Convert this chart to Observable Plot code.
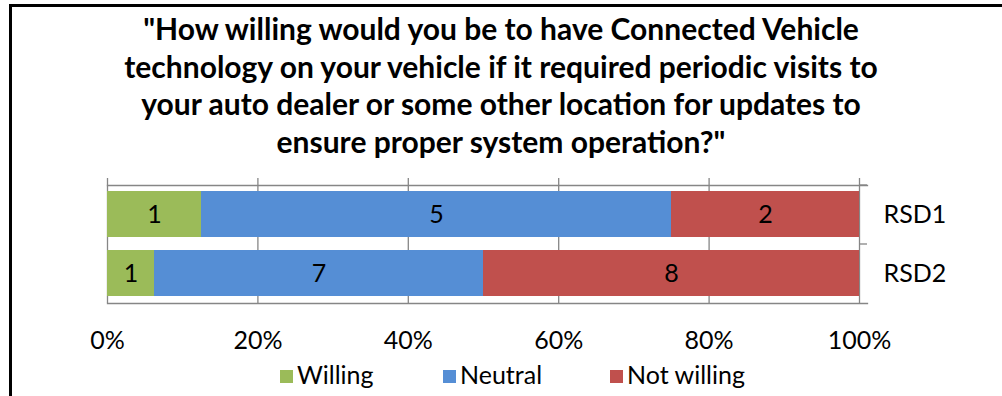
<!DOCTYPE html>
<html>
<head>
<meta charset="utf-8">
<script src="https://cdn.jsdelivr.net/npm/d3@7"></script>
<script src="https://cdn.jsdelivr.net/npm/@observablehq/plot@0.6"></script>
<style>
  html, body { margin: 0; padding: 0; background: #fff; }
  #root { position: relative; width: 1002px; height: 396px; overflow: hidden; font-family: Lato, "Open Sans", sans-serif; color: #000; }
  #frame { position: absolute; left: 9px; top: 4px; width: 1100px; height: 500px; border-left: 3px solid #000; border-top: 3px solid #000; }
  #title { position: absolute; left: 0; top: 10px; width: 1002px; text-align: center; font-weight: bold; font-size: 30px; line-height: 37.5px; }
  #chart { position: absolute; left: 0; top: 170px; }
  .leg { position: absolute; top: 360px; font-size: 25px; line-height: 28px; white-space: nowrap; }
  .sw { display: inline-block; width: 13px; height: 13px; margin-right: 4px; vertical-align: 1px; }
</style>
</head>
<body>
<div id="root">
  <div id="frame"></div>
  <div id="title"></div>
  <div id="chart"></div>
</div>
<script>
const titleLines = [
  "\"How willing would you be to have Connected Vehicle",
  "technology on your vehicle if it required periodic visits to",
  "your auto dealer or some other location for updates to",
  "ensure proper system operation?\""
];
const groups = ["RSD1", "RSD2"];
const responses = ["Willing", "Neutral", "Not willing"];
const rsd1Counts = [1, 5, 2];
const rsd2Counts = [1, 7, 8];
const colors = ["#9BBB59", "#558ED5", "#C0504D"];
const xTicks = [0, 0.2, 0.4, 0.6, 0.8, 1];
const legendX = [280, 443, 610];

document.getElementById("title").innerHTML = titleLines.map(s => s.replace(/&/g,"&amp;").replace(/</g,"&lt;")).join("<br>");

const data = [];
[rsd1Counts, rsd2Counts].forEach((counts, gi) => {
  counts.forEach((v, ri) => data.push({group: groups[gi], response: responses[ri], value: v}));
});

const grid = "#868686";
const chart = Plot.plot({
  width: 1002,
  height: 185,
  marginLeft: 107,
  marginRight: 143,
  marginTop: 15,
  marginBottom: 52,
  style: {fontFamily: "Lato, 'Open Sans', sans-serif", fontSize: "25px", color: "#000", background: "transparent"},
  x: {type: "linear", domain: [0, 1], ticks: xTicks, tickFormat: d3.format(".0%"), label: null},
  y: {domain: groups, paddingInner: 0.22, paddingOuter: 0.11, label: null},
  color: {domain: responses, range: colors},
  marks: [
    Plot.ruleX(xTicks, {x: d => d, stroke: grid, strokeWidth: 1.3, insetTop: -7}),
    Plot.frame({anchor: "top", stroke: grid, strokeWidth: 1.3, insetRight: -8}),
    Plot.frame({anchor: "bottom", stroke: grid, strokeWidth: 1.3, insetRight: -8}),
    Plot.ruleY(groups, {y: d => d, dy: -29.5, x1: 1, x2: 1, insetRight: -8, stroke: grid, strokeWidth: 1.3}),
    Plot.barX(data, Plot.stackX({offset: "normalize", x: "value", y: "group", fill: "response", order: responses})),
    Plot.text(data, Plot.stackX({offset: "normalize", x: "value", y: "group", z: "response", text: "value", order: responses, fontSize: 25, fill: "#000"})),
    Plot.axisX({ticks: xTicks, tickFormat: d3.format(".0%"), tickSize: 0, tickPadding: 28, fontSize: 25}),
    Plot.axisY({anchor: "right", tickSize: 0, tickPadding: 24, fontSize: 25, textAnchor: "start"})
  ]
});
document.getElementById("chart").appendChild(chart);

const root = document.getElementById("root");
responses.forEach((r, i) => {
  const d = document.createElement("div");
  d.className = "leg";
  d.style.left = legendX[i] + "px";
  d.innerHTML = `<span class="sw" style="background:${colors[i]}"></span>${r}`;
  root.appendChild(d);
});
</script>
</body>
</html>
